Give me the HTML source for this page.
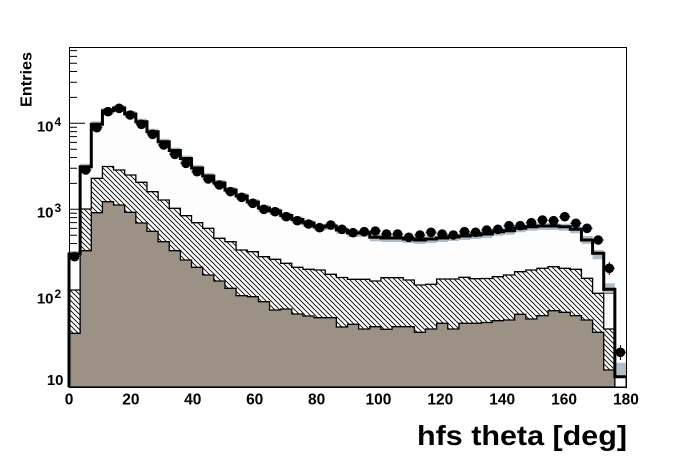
<!DOCTYPE html>
<html><head><meta charset="utf-8"><style>
html,body{margin:0;padding:0;background:#fff;}
svg{display:block;}
text{font-family:"Liberation Sans",Arial,sans-serif;font-weight:bold;fill:#000;}
</style></head><body>
<svg width="696" height="472" viewBox="0 0 696 472" xmlns="http://www.w3.org/2000/svg">
<defs>
<pattern id="h" patternUnits="userSpaceOnUse" width="5" height="5">
<rect width="5" height="5" fill="#fff"/>
<path d="M-1,-1 L6,6 M-1,4 L1,6 M4,-1 L6,1" stroke="#000" stroke-width="0.9"/>
</pattern>
</defs>
<rect width="696" height="472" fill="#fff"/>
<path stroke="#000" stroke-width="1" fill="none" d="
M69,381.3h16 M69,295.3h16 M69,209.3h16 M69,123.3h16
M69,385.2h8
M69,355.4h8 M69,340.3h8 M69,329.5h8 M69,321.2h8 M69,314.4h8 M69,308.6h8 M69,303.6h8 M69,299.2h8
M69,269.4h8 M69,254.3h8 M69,243.5h8 M69,235.2h8 M69,228.4h8 M69,222.6h8 M69,217.6h8 M69,213.2h8
M69,183.4h8 M69,168.3h8 M69,157.5h8 M69,149.2h8 M69,142.4h8 M69,136.6h8 M69,131.6h8 M69,127.2h8
M69,97.4h8 M69,82.3h8 M69,71.5h8 M69,63.2h8 M69,56.4h8 M69,50.6h8"/>
<path fill="#fdfdfd" stroke="#000" stroke-width="1" d="M69,387 V254 H80.14 V166.7 H91.28 V124.3 H102.42 V110.7 H113.56 V108 H124.7 V114 H135.84 V121.7 H146.98 V131.7 H158.12 V141.7 H169.26 V150.5 H180.4 V158.5 H191.54 V168 H202.68 V176 H213.82 V183 H224.96 V190 H236.1 V196 H247.24 V202 H258.38 V208 H269.52 V211 H280.66 V215.5 H291.8 V219.5 H302.94 V223 H314.08 V227 H325.22 V226 H336.36 V230 H347.5 V233 H358.64 V233 H369.78 V237.3 H380.92 V238 H392.06 V238 H403.2 V239 H414.34 V240 H425.48 V239 H436.62 V238 H447.76 V237 H458.9 V236 H470.04 V235 H481.18 V234 H492.32 V231.7 H503.46 V230.7 H514.6 V228.3 H525.74 V226.7 H536.88 V226 H548.02 V226 H559.16 V226.7 H570.3 V229.3 H581.44 V240 H592.58 V253.3 H603.72 V293.3 H614.86 V376.7 H626 V387 Z"/>
<path fill="url(#h)" stroke="#000" stroke-width="1.3" d="M69,387 V290 H80.14 V209 H91.28 V178.3 H102.42 V166.5 H113.56 V170 H124.7 V175 H135.84 V182.3 H146.98 V191.7 H158.12 V200 H169.26 V208.3 H180.4 V215.7 H191.54 V222.7 H202.68 V228.3 H213.82 V238.3 H224.96 V241.7 H236.1 V250 H247.24 V251.7 H258.38 V256.7 H269.52 V259.3 H280.66 V263.3 H291.8 V267.3 H302.94 V269.3 H314.08 V270 H325.22 V274.3 H336.36 V277.5 H347.5 V279.3 H358.64 V279.3 H369.78 V281 H380.92 V277.7 H392.06 V277.7 H403.2 V280 H414.34 V285 H425.48 V284.3 H436.62 V279 H447.76 V279 H458.9 V277.3 H470.04 V278.7 H481.18 V278.5 H492.32 V276.7 H503.46 V275 H514.6 V271.7 H525.74 V270 H536.88 V268.3 H548.02 V266.7 H559.16 V268.3 H570.3 V269.3 H581.44 V278.3 H592.58 V293.3 H603.72 V329 H614.86 V387 Z"/>
<path fill="#9c9185" stroke="#000" stroke-width="1.3" d="M69,387 V333.3 H80.14 V250.7 H91.28 V212.7 H102.42 V201.7 H113.56 V205 H124.7 V212.3 H135.84 V223 H146.98 V231.3 H158.12 V241.7 H169.26 V250.7 H180.4 V260 H191.54 V267.3 H202.68 V275 H213.82 V281 H224.96 V288.3 H236.1 V295.7 H247.24 V296.7 H258.38 V301.7 H269.52 V310 H280.66 V309 H291.8 V314 H302.94 V316 H314.08 V317.7 H325.22 V317.7 H336.36 V327 H347.5 V324.3 H358.64 V329 H369.78 V326.7 H380.92 V329.3 H392.06 V326.7 H403.2 V326.7 H414.34 V332.3 H425.48 V329 H436.62 V323.3 H447.76 V329 H458.9 V323.3 H470.04 V323.3 H481.18 V322.5 H492.32 V320.7 H503.46 V320 H514.6 V314.3 H525.74 V319 H536.88 V315.7 H548.02 V310.7 H559.16 V312.3 H570.3 V315.7 H581.44 V320 H592.58 V332.3 H603.72 V370 H614.86 V387 Z"/>
<path fill="#b2bec7" stroke="none" d="
M69,251h11.14v7h-11.14z M80.14,163.7h11.14v7h-11.14z M91.28,121.3h11.14v7h-11.14z M102.42,107.7h11.14v7h-11.14z M113.56,105h11.14v7h-11.14z
M124.7,111h11.14v7h-11.14z M135.84,118.7h11.14v7h-11.14z M146.98,128.7h11.14v7h-11.14z M158.12,138.7h11.14v7h-11.14z M169.26,147.5h11.14v7h-11.14z
M180.4,155.5h11.14v7h-11.14z M191.54,165h11.14v7h-11.14z M202.68,173h11.14v7h-11.14z M213.82,180h11.14v7h-11.14z M224.96,187h11.14v7h-11.14z
M236.1,193h11.14v7h-11.14z M247.24,199h11.14v7h-11.14z M258.38,205h11.14v7h-11.14z M269.52,208h11.14v7h-11.14z M280.66,212.5h11.14v7h-11.14z
M291.8,216.5h11.14v7h-11.14z M302.94,220h11.14v7h-11.14z M314.08,224h11.14v7h-11.14z M325.22,223h11.14v7h-11.14z M336.36,227h11.14v7h-11.14z
M347.5,230h11.14v7h-11.14z M358.64,230h11.14v7h-11.14z M369.78,234.3h11.14v7h-11.14z M380.92,235h11.14v7h-11.14z M392.06,235h11.14v7h-11.14z
M403.2,236h11.14v7h-11.14z M414.34,237h11.14v7h-11.14z M425.48,236h11.14v7h-11.14z M436.62,235h11.14v7h-11.14z M447.76,234h11.14v7h-11.14z
M458.9,233h11.14v7h-11.14z M470.04,232h11.14v7h-11.14z M481.18,231h11.14v7h-11.14z M492.32,228.7h11.14v7h-11.14z M503.46,227.7h11.14v7h-11.14z
M514.6,225.3h11.14v7h-11.14z M525.74,223.7h11.14v7h-11.14z M536.88,223h11.14v7h-11.14z M548.02,223h11.14v7h-11.14z M559.16,223.7h11.14v7h-11.14z
M570.3,226.3h11.14v7h-11.14z M581.44,236h11.14v8h-11.14z M592.58,250h11.14v9.3h-11.14z M603.72,283.3h11.14v10h-11.14z M614.86,362.7h11.14v14h-11.14z"/>
<path fill="none" stroke="#000" stroke-width="3" stroke-linejoin="miter" d="M69,387 V254 H80.14 V166.7 H91.28 V124.3 H102.42 V110.7 H113.56 V108 H124.7 V114 H135.84 V121.7 H146.98 V131.7 H158.12 V141.7 H169.26 V150.5 H180.4 V158.5 H191.54 V168 H202.68 V176 H213.82 V183 H224.96 V190 H236.1 V196 H247.24 V202 H258.38 V208 H269.52 V211 H280.66 V215.5 H291.8 V219.5 H302.94 V223 H314.08 V227 H325.22 V226 H336.36 V230 H347.5 V233 H358.64 V233 H369.78 V237.3 H380.92 V238 H392.06 V238 H403.2 V239 H414.34 V240 H425.48 V239 H436.62 V238 H447.76 V237 H458.9 V236 H470.04 V235 H481.18 V234 H492.32 V231.7 H503.46 V230.7 H514.6 V228.3 H525.74 V226.7 H536.88 V226 H548.02 V226 H559.16 V226.7 H570.3 V229.3 H581.44 V240 H592.58 V253.3 H603.72 V289.3 H614.86 V376.7 H626"/>
<path fill="none" stroke="#000" stroke-width="1" d="
M69,256.7h11.14 M80.14,170h11.14 M91.28,127.7h11.14 M102.42,111.7h11.14 M113.56,108.3h11.14
M124.7,115h11.14 M135.84,124.3h11.14 M146.98,134.3h11.14 M158.12,145h11.14 M169.26,154.3h11.14
M180.4,163.3h11.14 M191.54,171.7h11.14 M202.68,179h11.14 M213.82,185h11.14 M224.96,191.7h11.14
M236.1,197.3h11.14 M247.24,203.3h11.14 M258.38,209.3h11.14 M269.52,211.7h11.14 M280.66,216.7h11.14
M291.8,220.7h11.14 M302.94,224h11.14 M314.08,227.7h11.14 M325.22,225h11.14 M336.36,229.3h11.14
M347.5,232.7h11.14 M358.64,231.7h11.14 M369.78,231h11.14 M380.92,234h11.14 M392.06,234h11.14
M403.2,237.3h11.14 M414.34,235h11.14 M425.48,232.3h11.14 M436.62,234h11.14 M447.76,235h11.14
M458.9,231.7h11.14 M470.04,232.3h11.14 M481.18,230h11.14 M492.32,229.3h11.14 M503.46,225.7h11.14
M514.6,225.7h11.14 M525.74,222.7h11.14 M536.88,220h11.14 M548.02,220.7h11.14 M559.16,216.7h11.14
M570.3,223.3h11.14 M581.44,228.3h11.14 M592.58,240h11.14 M603.72,268.3h11.14 M614.86,352.3h11.14
M609.29,262v13 M620.43,345v15"/>
<g fill="#000">
<circle cx="74.57" cy="256.7" r="4.8"/><circle cx="85.71" cy="170" r="4.8"/><circle cx="96.85" cy="127.7" r="4.8"/><circle cx="107.99" cy="111.7" r="4.8"/><circle cx="119.13" cy="108.3" r="4.8"/>
<circle cx="130.27" cy="115" r="4.8"/><circle cx="141.41" cy="124.3" r="4.8"/><circle cx="152.55" cy="134.3" r="4.8"/><circle cx="163.69" cy="145" r="4.8"/><circle cx="174.83" cy="154.3" r="4.8"/>
<circle cx="185.97" cy="163.3" r="4.8"/><circle cx="197.11" cy="171.7" r="4.8"/><circle cx="208.25" cy="179" r="4.8"/><circle cx="219.39" cy="185" r="4.8"/><circle cx="230.53" cy="191.7" r="4.8"/>
<circle cx="241.67" cy="197.3" r="4.8"/><circle cx="252.81" cy="203.3" r="4.8"/><circle cx="263.95" cy="209.3" r="4.8"/><circle cx="275.09" cy="211.7" r="4.8"/><circle cx="286.23" cy="216.7" r="4.8"/>
<circle cx="297.37" cy="220.7" r="4.8"/><circle cx="308.51" cy="224" r="4.8"/><circle cx="319.65" cy="227.7" r="4.8"/><circle cx="330.79" cy="225" r="4.8"/><circle cx="341.93" cy="229.3" r="4.8"/>
<circle cx="353.07" cy="232.7" r="4.8"/><circle cx="364.21" cy="231.7" r="4.8"/><circle cx="375.35" cy="231" r="4.8"/><circle cx="386.49" cy="234" r="4.8"/><circle cx="397.63" cy="234" r="4.8"/>
<circle cx="408.77" cy="237.3" r="4.8"/><circle cx="419.91" cy="235" r="4.8"/><circle cx="431.05" cy="232.3" r="4.8"/><circle cx="442.19" cy="234" r="4.8"/><circle cx="453.33" cy="235" r="4.8"/>
<circle cx="464.47" cy="231.7" r="4.8"/><circle cx="475.61" cy="232.3" r="4.8"/><circle cx="486.75" cy="230" r="4.8"/><circle cx="497.89" cy="229.3" r="4.8"/><circle cx="509.03" cy="225.7" r="4.8"/>
<circle cx="520.17" cy="225.7" r="4.8"/><circle cx="531.31" cy="222.7" r="4.8"/><circle cx="542.45" cy="220" r="4.8"/><circle cx="553.59" cy="220.7" r="4.8"/><circle cx="564.73" cy="216.7" r="4.8"/>
<circle cx="575.87" cy="223.3" r="4.8"/><circle cx="587.01" cy="228.3" r="4.8"/><circle cx="598.15" cy="240" r="4.8"/><circle cx="609.29" cy="268.3" r="4.8"/><circle cx="620.43" cy="352.3" r="4.8"/>
</g>
<rect x="69.5" y="47.5" width="557" height="340" fill="none" stroke="#000" stroke-width="1"/>
<text x="53.5" y="131.3" font-size="15" text-anchor="end">10</text><text x="54.5" y="126" font-size="12">4</text>
<text x="53.5" y="217.3" font-size="15" text-anchor="end">10</text><text x="54.5" y="212" font-size="12">3</text>
<text x="53.5" y="303.3" font-size="15" text-anchor="end">10</text><text x="54.5" y="298" font-size="12">2</text>
<text x="63.5" y="385" font-size="15" text-anchor="end">10</text>
<g font-size="15.5" text-anchor="middle">
<text x="69" y="404.5">0</text>
<text x="130.9" y="404.5">20</text>
<text x="192.8" y="404.5">40</text>
<text x="254.7" y="404.5">60</text>
<text x="316.6" y="404.5">80</text>
<text x="378.4" y="404.5">100</text>
<text x="440.3" y="404.5">120</text>
<text x="502.2" y="404.5">140</text>
<text x="564.1" y="404.5">160</text>
<text x="626" y="404.5">180</text>
</g>
<text x="627" y="445" font-size="28" text-anchor="end" textLength="210" lengthAdjust="spacingAndGlyphs">hfs theta [deg]</text>
<text transform="translate(31.5,52) rotate(-90)" font-size="16" text-anchor="end" textLength="55" lengthAdjust="spacingAndGlyphs">Entries</text>
</svg>
</body></html>
